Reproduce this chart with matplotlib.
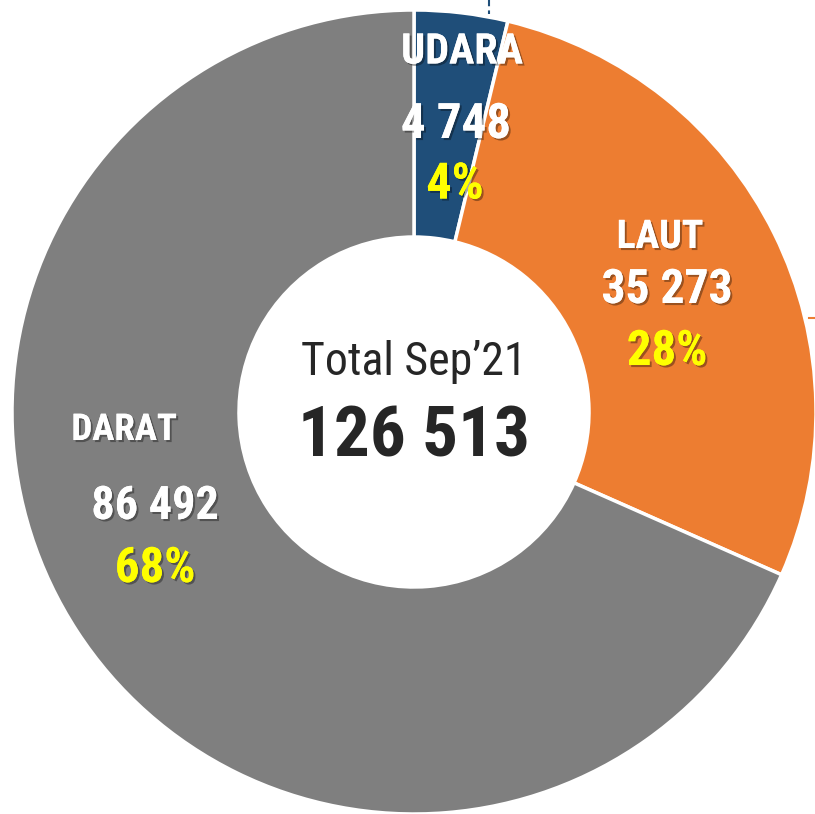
import matplotlib
matplotlib.use("Agg")
import matplotlib.pyplot as plt
import matplotlib.patheffects as pe

categories = ["UDARA", "LAUT", "DARAT"]
values = [4748, 35273, 86492]
value_labels = ["4 748", "35 273", "86 492"]
pct_labels = ["4%", "28%", "68%"]
colors = ["#1F4E79", "#ED7D31", "#7F7F7F"]
total_title = "Total Sep\u201921"
total_value = "126 513"

plt.rcParams['font.family'] = ['Roboto Condensed', 'DejaVu Sans']

W, H = 815, 814
fig = plt.figure(figsize=(W / 100, H / 100), dpi=100)
ax = fig.add_axes([0, 0, 1, 1])

cx, cy = 414, 412
R = 402
width = R - 175

# y axis is inverted (pixel coords), so data-counterclockwise is visually clockwise
ax.pie(values, colors=colors, startangle=-90, counterclock=True,
       radius=R, center=(cx, cy), frame=True,
       wedgeprops=dict(width=width, edgecolor='white', linewidth=2.5))
ax.set_xlim(0, W)
ax.set_ylim(H, 0)
ax.set_aspect('equal')
ax.axis('off')

shadow = [pe.withSimplePatchShadow(offset=(1.5, -1.5), shadow_rgbFace='black', alpha=0.35), pe.Normal()]

k = 0.95
label_pos = {
    "UDARA": [(462, 52, 32), (456, 125, 37), (455, 185, 38)],
    "LAUT": [(660, 237, 30), (667, 290, 36), (667, 352, 37)],
    "DARAT": [(124, 430, 28), (155, 506, 35), (155, 569, 37)],
}
for cat, vl, pl in zip(categories, value_labels, pct_labels):
    (x1, y1, s1), (x2, y2, s2), (x3, y3, s3) = label_pos[cat]
    ax.text(x1, y1, cat, ha='center', va='center', fontsize=s1 * k, color='white',
            fontweight='bold', path_effects=shadow)
    ax.text(x2, y2, vl, ha='center', va='center', fontsize=s2 * k, color='white',
            fontweight='bold', path_effects=shadow)
    ax.text(x3, y3, pl, ha='center', va='center', fontsize=s3 * k, color='#FFFF00',
            fontweight='bold', path_effects=shadow)

ax.text(414, 362, total_title, ha='center', va='center', fontsize=33, color='#262626')
ax.text(414, 437, total_value, ha='center', va='center', fontsize=51, color='#262626',
        fontweight='bold')

# leader line stubs
ax.plot([489, 489], [0, 14], color='#1F4E79', linewidth=1.5, linestyle=(0, (3, 2)))
ax.plot([809, 815], [318, 318], color='#ED7D31', linewidth=1.5)

fig.savefig("out.png", dpi=100)
